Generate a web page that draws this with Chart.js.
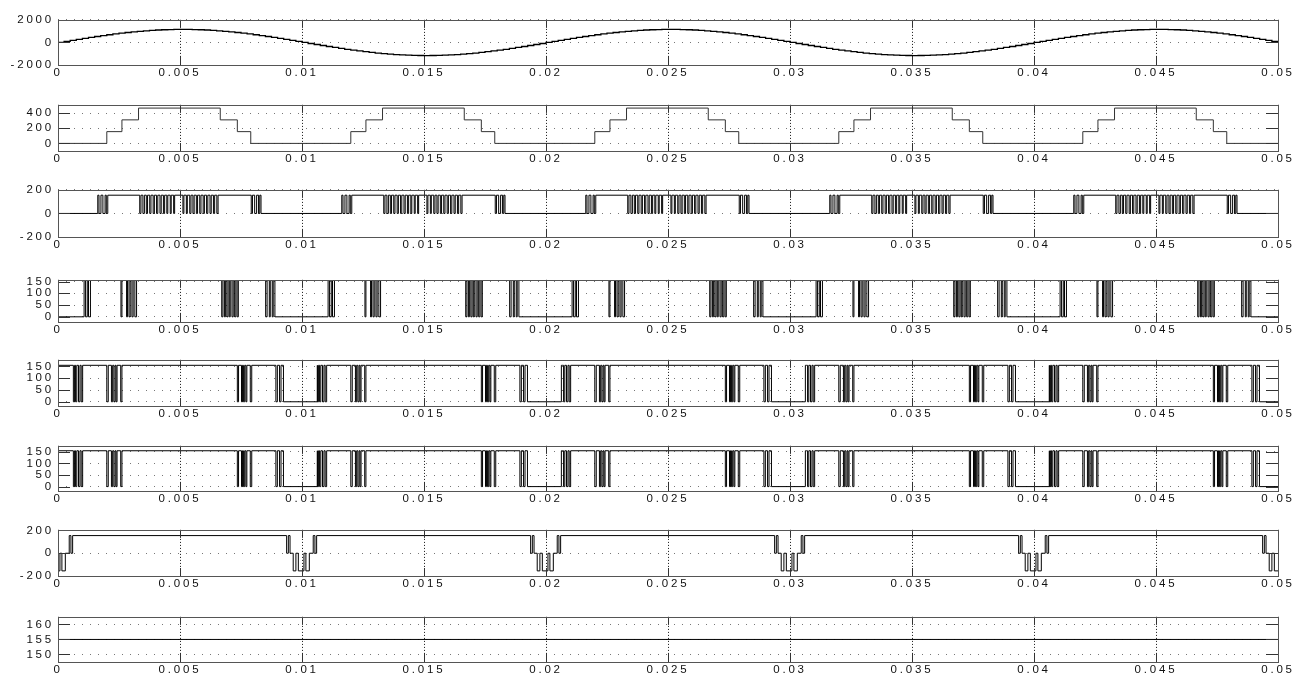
<!DOCTYPE html>
<html>
<head>
<meta charset="utf-8">
<script src="https://cdn.jsdelivr.net/npm/chart.js@4"></script>
<style>
  body { margin: 0; background: #fff; }
  #wrap { position: relative; width: 1304px; height: 673px; overflow: hidden; }
  canvas { position: absolute; left: 0; }
</style>
</head>
<body>
<div id="wrap"></div>
<script>
// x axis (time, s)
const xTicks = [0, 0.005, 0.01, 0.015, 0.02, 0.025, 0.03, 0.035, 0.04, 0.045, 0.05];
const xTickLabels = ['0', '0.005', '0.01', '0.015', '0.02', '0.025', '0.03', '0.035', '0.04', '0.045', '0.05'];

// panel 1: sampled sine, one value every 0.00025 s
const sineStep = 0.00025;
const sineValues = [
  0, 91, 181, 271, 358, 444, 527, 606, 682, 753, 820, 882, 938, 989, 1034, 1072, 1103, 1128, 1146, 1156,
  1160, 1156, 1146, 1128, 1103, 1072, 1034, 989, 938, 882, 820, 753, 682, 606, 527, 444, 358, 271, 181, 91,
  0, -91, -181, -271, -358, -444, -527, -606, -682, -753, -820, -882, -938, -989, -1034, -1072, -1103, -1128, -1146, -1156,
  -1160, -1156, -1146, -1128, -1103, -1072, -1034, -989, -938, -882, -820, -753, -682, -606, -527, -444, -358, -271, -181, -91,
  0, 91, 181, 271, 358, 444, 527, 606, 682, 753, 820, 882, 938, 989, 1034, 1072, 1103, 1128, 1146, 1156,
  1160, 1156, 1146, 1128, 1103, 1072, 1034, 989, 938, 882, 820, 753, 682, 606, 527, 444, 358, 271, 181, 91,
  0, -91, -181, -271, -358, -444, -527, -606, -682, -753, -820, -882, -938, -989, -1034, -1072, -1103, -1128, -1146, -1156,
  -1160, -1156, -1146, -1128, -1103, -1072, -1034, -989, -938, -882, -820, -753, -682, -606, -527, -444, -358, -271, -181, -91,
  0, 91, 181, 271, 358, 444, 527, 606, 682, 753, 820, 882, 938, 989, 1034, 1072, 1103, 1128, 1146, 1156,
  1160, 1156, 1146, 1128, 1103, 1072, 1034, 989, 938, 882, 820, 753, 682, 606, 527, 444, 358, 271, 181, 91,
  0
];

// every switching pattern below repeats each 0.01 s
const cycleStarts = [0, 0.01, 0.02, 0.03, 0.04];
const cycleCentres = [0, 0.01, 0.02, 0.03, 0.04, 0.05];

// panel 2: staircase reference, [time in cycle, level]
const stairEdges = [[0.0020, 155], [0.00262, 310], [0.0033, 465], [0.00665, 310], [0.00735, 155], [0.0079, 0]];

// panel 3: cell output, toggle times in cycle (starts low)
const cellLevels = [0, 155];
const cellToggles = [
  0.00163, 0.00168, 0.00176, 0.00184, 0.00193, 0.00198, 0.00204,
  0.00335, 0.0034, 0.00348, 0.00354, 0.00362, 0.00367, 0.00376, 0.00381, 0.0039, 0.00395, 0.00404, 0.00409,
  0.00418, 0.00423, 0.00432, 0.00437, 0.00446, 0.0045, 0.0046, 0.00464, 0.00474, 0.00478,
  0.00512, 0.00516, 0.00526, 0.0053, 0.0054, 0.00545, 0.00553, 0.00558, 0.00567, 0.00572, 0.00581, 0.00586,
  0.00595, 0.006, 0.00609, 0.00614, 0.00623, 0.00628, 0.00637, 0.00642, 0.00651, 0.00656,
  0.00792, 0.00797, 0.00806, 0.00814, 0.00822, 0.00827, 0.00832
];

// panel 4: gate signal A (starts low)
const gateLevels = [0, 155];
const gateAToggles = [
  0.00107, 0.00113, 0.0012, 0.00125, 0.00133,
  0.00258, 0.00262, 0.00281, 0.00285, 0.00291, 0.00296, 0.00303, 0.00308, 0.00315, 0.00322,
  0.00671, 0.00676, 0.00682, 0.00686, 0.00692, 0.00697, 0.00702, 0.00706, 0.00713, 0.00718, 0.00724, 0.00729, 0.00734, 0.00739,
  0.00851, 0.00857, 0.00866, 0.0087, 0.00878, 0.00882, 0.00889
];

// panels 5 and 6: gate signals B and C (start high)
const gateBToggles = [
  0.00063, 0.00068, 0.00072, 0.00077, 0.00084, 0.0009, 0.00095, 0.00101,
  0.002, 0.00206, 0.00219, 0.00224, 0.00229, 0.00234, 0.00238, 0.00242, 0.00257, 0.00262,
  0.00735, 0.0074, 0.00752, 0.00756, 0.0076, 0.00765, 0.0077, 0.00774, 0.00788, 0.00794,
  0.00893, 0.00899, 0.00908, 0.00914, 0.00924, 0.01063
];

// panel 7: bipolar output, [time from cycle centre, level]
const outEdges = [
  [-0.00063, 0], [-0.00056, 155], [-0.00049, 0], [-0.00036, -155], [-0.00025, 0], [-0.00015, -155],
  [0.00008, 0], [0.00016, -155], [0.0003, 0], [0.00046, 155], [0.00053, 0], [0.0006, 155]
];

// panel 8: dc link
const dcLevel = 155;

// y axes
const yTicks1 = [-2000, 0, 2000];
const yTicks2 = [0, 200, 400];
const yTicks3 = [-200, 0, 200];
const yTicksGate = [0, 50, 100, 150];
const yTicks7 = [-200, 0, 200];
const yTicks8 = [150, 155, 160];

function toggleEdges(toggles, levels, startHigh) {
  let high = startHigh;
  return toggles.map(t => { high = !high; return [t, high ? levels[1] : levels[0]]; });
}

function buildSteps(pattern, offsets, initial) {
  const all = [];
  offsets.forEach(o => pattern.forEach(([t, v]) => all.push([o + t, v])));
  all.sort((a, b) => a[0] - b[0]);
  let start = initial;
  all.filter(e => e[0] < 0).forEach(e => { start = e[1]; });
  const pts = [{ x: 0, y: start }];
  all.filter(e => e[0] >= 0 && e[0] <= 0.05).forEach(e => pts.push({ x: e[0], y: e[1] }));
  pts.push({ x: 0.05, y: pts[pts.length - 1].y });
  return pts;
}

const panels = [
  { top: 15, h: 50, min: -2000, max: 2000, ticks: yTicks1, width: 1.3,
    data: sineValues.map((v, i) => ({ x: i * sineStep, y: v })) },
  { top: 100, h: 51, min: -100, max: 507, ticks: yTicks2, color: '#333',
    data: buildSteps(stairEdges, cycleStarts, 0) },
  { top: 185, h: 52, min: -200, max: 200, ticks: yTicks3,
    data: buildSteps(toggleEdges(cellToggles, cellLevels, false), cycleStarts, 0) },
  { top: 275, h: 47, min: -22, max: 157, ticks: yTicksGate,
    data: buildSteps(toggleEdges(gateAToggles, gateLevels, false), cycleStarts, 0) },
  { top: 355, h: 51, min: -18, max: 178, ticks: yTicksGate,
    data: buildSteps(toggleEdges(gateBToggles, gateLevels, true), cycleStarts, 155) },
  { top: 441, h: 50, min: -19, max: 176, ticks: yTicksGate,
    data: buildSteps(toggleEdges(gateBToggles, gateLevels, true), cycleStarts, 155) },
  { top: 525, h: 51, min: -200, max: 205, ticks: yTicks7,
    data: buildSteps(outEdges, cycleCentres, 155) },
  { top: 612, h: 50, min: 147.5, max: 162.5, ticks: yTicks8,
    data: [{ x: 0, y: dcLevel }, { x: 0.05, y: dcLevel }] }
];

const PAD_TOP = 6, AXIS_H = 20;
const tickFont = { family: 'Liberation Sans, Arial, sans-serif', size: 11.5 };

const spacing = {
  id: 'spacing',
  beforeDraw(chart) { chart.ctx.letterSpacing = '2.8px'; }
};

// box round the plot and MATLAB-style inward tick marks
const frame = {
  id: 'frame',
  afterDraw(chart) {
    const { ctx, chartArea: a, scales: { x, y } } = chart;
    ctx.save();
    ctx.setLineDash([]);
    ctx.lineWidth = 1;
    ctx.strokeStyle = '#333';
    ctx.beginPath();
    x.ticks.forEach(t => {
      const px = Math.round(x.getPixelForValue(t.value)) + 0.5;
      ctx.moveTo(px, a.bottom); ctx.lineTo(px, a.bottom - 8);
      ctx.moveTo(px, a.top); ctx.lineTo(px, a.top + 8);
    });
    y.ticks.forEach(t => {
      const py = Math.round(y.getPixelForValue(t.value)) + 0.5;
      ctx.moveTo(a.left, py); ctx.lineTo(a.left + 12, py);
      ctx.moveTo(a.right, py); ctx.lineTo(a.right - 12, py);
    });
    ctx.stroke();
    ctx.strokeStyle = '#555';
    ctx.strokeRect(Math.round(a.left) + 0.5, Math.round(a.top) + 0.5,
      Math.round(a.right - a.left), Math.round(a.bottom - a.top));
    ctx.restore();
  }
};

const wrap = document.getElementById('wrap');
panels.forEach(p => {
  const cv = document.createElement('canvas');
  cv.width = 1304;
  cv.height = p.h + PAD_TOP + AXIS_H;
  cv.style.top = (p.top - PAD_TOP) + 'px';
  wrap.appendChild(cv);

  new Chart(cv.getContext('2d'), {
    type: 'line',
    data: {
      datasets: [{
        data: p.data,
        borderColor: p.color || '#000',
        borderWidth: p.width || 1,
        stepped: true,
        pointRadius: 0,
        fill: false
      }]
    },
    options: {
      animation: false,
      responsive: false,
      devicePixelRatio: 1,
      layout: { padding: { top: PAD_TOP, right: 26, left: 0, bottom: 0 } },
      plugins: { legend: { display: false }, tooltip: { enabled: false } },
      scales: {
        x: {
          type: 'linear', min: 0, max: 0.05,
          afterBuildTicks: s => { s.ticks = xTicks.map(v => ({ value: v })); },
          afterFit: s => { s.height = AXIS_H; },
          ticks: {
            callback: (v, i) => xTickLabels[i],
            font: tickFont, color: '#111', padding: 1,
            maxRotation: 0, autoSkip: false
          },
          grid: { color: '#111', drawTicks: false },
          border: { display: false, dash: [1, 2] }
        },
        y: {
          min: p.min, max: p.max,
          afterBuildTicks: s => { s.ticks = p.ticks.map(v => ({ value: v })); },
          afterFit: s => { s.width = 58; },
          ticks: {
            callback: v => String(v),
            font: tickFont, color: '#111', padding: 4, autoSkip: false
          },
          grid: { color: '#777', drawTicks: false },
          border: { display: false, dash: [1, 7] }
        }
      }
    },
    plugins: [spacing, frame]
  });
});
</script>
</body>
</html>
